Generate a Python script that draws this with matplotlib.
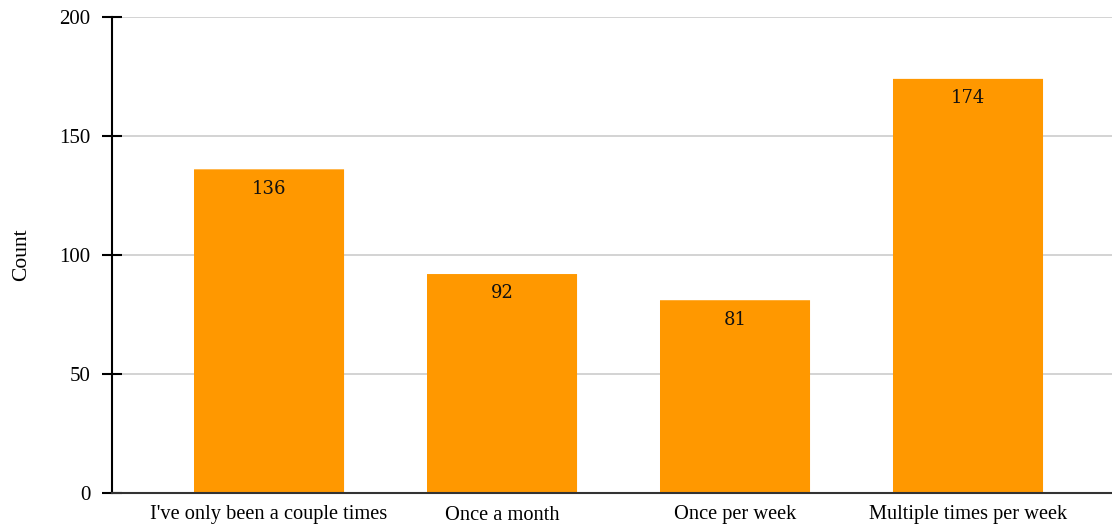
import matplotlib
matplotlib.use("Agg")
import matplotlib.pyplot as plt
from matplotlib.patches import FancyBboxPatch

categories = ["I've only been a couple times", "Once a month", "Once per week", "Multiple times per week"]
counts = [136, 92, 81, 174]
y_ticks = [0, 50, 100, 150, 200]

bar_color = "#FF9800"
serif = ["Liberation Serif", "DejaVu Serif"]

fig = plt.figure(figsize=(11.12, 5.27), dpi=100)
ax = fig.add_axes([112 / 1112, 1 - 493 / 527, 1 - 112 / 1112, (493 - 17) / 527])

x = list(range(len(categories)))
bars = ax.bar(x, counts, width=0.644, color=bar_color, zorder=2)

# Slightly rounded top corners
for b in bars:
    b.set_visible(False)
    x0, y0 = b.get_x(), b.get_y()
    w, h = b.get_width(), b.get_height()
    patch = FancyBboxPatch((x0, y0), w, h,
                           boxstyle="round,pad=0,rounding_size=0.012",
                           mutation_aspect=200 / 476 * 1000 / 233 / 4.3,
                           facecolor=bar_color, edgecolor="none", zorder=2)
    ax.add_patch(patch)
    ax.add_patch(plt.Rectangle((x0, y0), w, h * 0.5, facecolor=bar_color,
                               edgecolor="none", zorder=2))

for xi, v in zip(x, counts):
    ax.annotate(str(v), (xi, v), xytext=(0, -14), textcoords="offset points",
                ha="center", va="center", fontsize=13, fontfamily="DejaVu Serif",
                color="#111111", zorder=3)

ax.set_xlim(-0.674, 3.618)
ax.set_ylim(0, 200)
ax.set_yticks(y_ticks)
ax.set_yticklabels([str(t) for t in y_ticks], fontfamily=serif, fontsize=15)
ax.set_xticks(x)
ax.set_xticklabels(categories, fontfamily=serif, fontsize=14.7)

ax.yaxis.grid(True, color="#cccccc", linewidth=1.2, zorder=0)
ax.set_axisbelow(True)

ax.tick_params(axis="y", direction="inout", length=15, width=1.5, color="black", pad=8)
ax.tick_params(axis="x", length=0, pad=9)

for s in ["top", "right"]:
    ax.spines[s].set_visible(False)
ax.spines["left"].set_color("black")
ax.spines["left"].set_linewidth(1.5)
ax.spines["bottom"].set_color("#333333")
ax.spines["bottom"].set_linewidth(1.5)

ax.set_ylabel("Count", fontfamily=serif, fontsize=15.5, labelpad=20)

fig.savefig("out.png", dpi=100)
